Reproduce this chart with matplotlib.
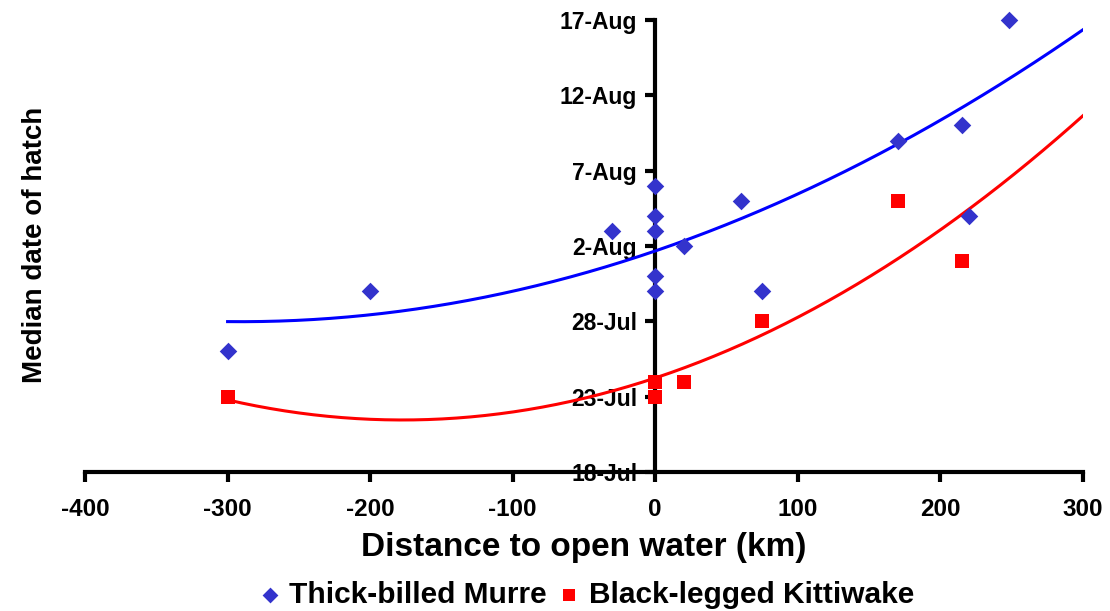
import numpy as np
import pandas as pd
import matplotlib
matplotlib.use("Agg")
import matplotlib.pyplot as plt
import matplotlib.dates as mdates
from matplotlib.ticker import FuncFormatter

plt.rcParams["font.family"] = ["Liberation Sans", "DejaVu Sans"]
plt.rcParams["font.weight"] = "bold"
plt.rcParams["axes.unicode_minus"] = False

# distance to open water (km) and median hatch dates
murre_x = [-300, -200, -30, 0, 0, 0, 0, 0, 20, 60, 75, 170, 215, 220, 248]
murre_dates = ["26-Jul", "30-Jul", "3-Aug", "6-Aug", "4-Aug", "3-Aug", "31-Jul", "30-Jul",
               "2-Aug", "5-Aug", "30-Jul", "9-Aug", "10-Aug", "4-Aug", "17-Aug"]
kitti_x = [-300, 0, 0, 20, 75, 170, 215]
kitti_dates = ["23-Jul", "24-Jul", "23-Jul", "24-Jul", "28-Jul", "5-Aug", "1-Aug"]

# polynomial trendlines: days after 18-Jul = a*x^2 + b*x + c
murre_trend = [5.55e-5, 0.03228, 14.67]
kitti_trend = [8.86e-5, 0.03143, 6.24]
trend_range = [-300, 300]

tick_dates = ["18-Jul", "23-Jul", "28-Jul", "2-Aug", "7-Aug", "12-Aug", "17-Aug"]
x_ticks = [-400, -300, -200, -100, 0, 100, 200, 300]


def to_num(labels):
    d = pd.to_datetime([s + "-2008" for s in labels], format="%d-%b-%Y")
    return mdates.date2num(d)


murre_y = to_num(murre_dates)
kitti_y = to_num(kitti_dates)
yt = to_num(tick_dates)
base = yt[0]

fig = plt.figure(figsize=(11.1, 6.11), dpi=100)
ax = fig.add_axes([0.0766, 0.2275, 0.899, 0.7398])

xs = np.linspace(trend_range[0], trend_range[1], 300)
ax.plot(xs, np.polyval(murre_trend, xs) + base, color="#0000FF", lw=2.2, zorder=3)
ax.plot(xs, np.polyval(kitti_trend, xs) + base, color="#FF0000", lw=2.2, zorder=3)

ax.scatter(murre_x, murre_y, marker="D", s=80, color="#3333CC", lw=0,
           zorder=4, clip_on=False, label="Thick-billed Murre")
ax.scatter(kitti_x, kitti_y, marker="s", s=95, color="#FF0000", lw=0,
           zorder=4, clip_on=False, label="Black-legged Kittiwake")

ax.set_xlim(-400, 300)
ax.set_ylim(yt[0], yt[-1])
ax.set_xticks(x_ticks)
ax.set_yticks(yt)
ax.yaxis.set_major_formatter(FuncFormatter(
    lambda v, p: f"{mdates.num2date(v).day}-{mdates.num2date(v).strftime('%b')}"))

ax.spines["left"].set_position(("data", 0))
ax.spines["right"].set_visible(False)
ax.spines["top"].set_visible(False)
for s in ["left", "bottom"]:
    ax.spines[s].set_linewidth(3)
    ax.spines[s].set_zorder(2.5)

ax.tick_params(axis="both", width=3, length=7)
ax.tick_params(axis="x", pad=12, labelsize=17.5)
ax.tick_params(axis="y", pad=6, labelsize=16.5)
for t in ax.get_xticklabels() + ax.get_yticklabels():
    t.set_fontweight("bold")

ax.set_xlabel("Distance to open water (km)", fontsize=24, fontweight="bold", labelpad=8)
fig.text(0.0315, 0.6, "Median date of hatch", rotation=90, fontsize=20,
         fontweight="bold", ha="center", va="center")

fig.legend(loc="center", bbox_to_anchor=(0.528, 0.026), ncol=2, frameon=False,
           prop={"weight": "bold", "size": 21.5}, handlelength=0.8, handletextpad=0.25,
           columnspacing=0.35, markerscale=0.9, borderpad=0)

fig.savefig("out.png", dpi=100)
